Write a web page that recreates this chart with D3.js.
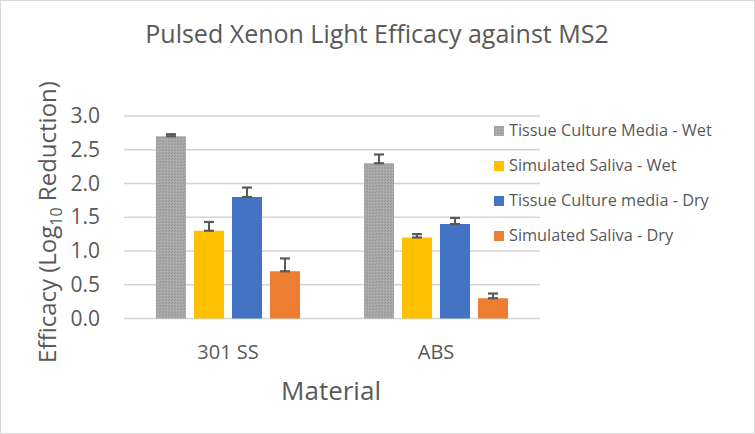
<!DOCTYPE html>
<html>
<head>
<meta charset="utf-8">
<script src="https://cdn.jsdelivr.net/npm/d3@7"></script>
<style>
  body { margin: 0; background: #fff; }
  svg text { font-family: "Open Sans", sans-serif; fill: #595959; }
</style>
</head>
<body>
<div id="chart"></div>
<script>
// data
const materials = ["301 SS", "ABS"];
const seriesNames = [
    "Tissue Culture Media - Wet",
    "Simulated Saliva - Wet",
    "Tissue Culture media - Dry",
    "Simulated Saliva - Dry"
];
const tcmWet = [2.7, 2.3];
const salivaWet = [1.3, 1.2];
const tcmDry = [1.8, 1.4];
const salivaDry = [0.7, 0.3];
const tcmWetErr = [0.03, 0.13];
const salivaWetErr = [0.13, 0.05];
const tcmDryErr = [0.14, 0.09];
const salivaDryErr = [0.19, 0.07];
const yTicks = [0, 0.5, 1, 1.5, 2, 2.5, 3];

const seriesValues = [tcmWet, salivaWet, tcmDry, salivaDry];
const seriesErrors = [tcmWetErr, salivaWetErr, tcmDryErr, salivaDryErr];
const colors = ["url(#stipple)", "#FFC000", "#4472C4", "#ED7D31"];

const width = 755, height = 434;
const plot = { left: 124, right: 540, top: 116, bottom: 318.5 };

const svg = d3.select("#chart").append("svg")
    .attr("width", width)
    .attr("height", height);

// stippled grey fill like the excel bar
const defs = svg.append("defs");
const pat = defs.append("pattern")
    .attr("id", "stipple")
    .attr("width", 3)
    .attr("height", 3)
    .attr("patternUnits", "userSpaceOnUse");
pat.append("rect").attr("width", 3).attr("height", 3).attr("fill", "#a8a8a8");
pat.append("rect").attr("x", 0).attr("y", 0).attr("width", 1).attr("height", 1).attr("fill", "#959595");
pat.append("rect").attr("x", 2).attr("y", 1).attr("width", 1).attr("height", 1).attr("fill", "#b4b4b4");
pat.append("rect").attr("x", 1).attr("y", 2).attr("width", 1).attr("height", 1).attr("fill", "#9a9a9a");

// chart border
svg.append("rect")
    .attr("x", 0.5).attr("y", 0.5)
    .attr("width", width - 1).attr("height", height - 1)
    .attr("fill", "#fff")
    .attr("stroke", "#d9d9d9");

const y = d3.scaleLinear().domain([0, 3]).range([plot.bottom, plot.top]);

const x0 = d3.scaleBand()
    .domain(materials)
    .range([plot.left, plot.right])
    .paddingInner(0.3077)
    .paddingOuter(0.1538);

const x1 = d3.scaleBand()
    .domain(d3.range(seriesNames.length))
    .range([0, x0.bandwidth()])
    .paddingInner(8 / 38);

// gridlines
svg.append("g")
    .selectAll("line")
    .data(yTicks)
    .enter().append("line")
    .attr("x1", plot.left)
    .attr("x2", plot.right)
    .attr("y1", d => y(d))
    .attr("y2", d => y(d))
    .attr("stroke", "#d4d4d4")
    .attr("stroke-width", 1.5);

// y axis labels
const yAxis = svg.append("g")
    .attr("transform", `translate(${plot.left},0)`)
    .call(d3.axisLeft(y).tickValues(yTicks).tickSize(0).tickPadding(24).tickFormat(d3.format(".1f")));
yAxis.select(".domain").remove();
yAxis.selectAll("text")
    .style("font-size", "21px")
    .style("fill", "#595959");

// x axis labels
const xAxis = svg.append("g")
    .attr("transform", `translate(0,${plot.bottom})`)
    .call(d3.axisBottom(x0).tickSize(0).tickPadding(26));
xAxis.select(".domain").remove();
xAxis.selectAll("text")
    .style("font-size", "20px")
    .style("fill", "#595959");

// bars
seriesValues.forEach((vals, s) => {
    const g = svg.append("g");
    g.selectAll("rect")
        .data(vals)
        .enter().append("rect")
        .attr("x", (d, i) => x0(materials[i]) + x1(s))
        .attr("y", d => y(d))
        .attr("width", x1.bandwidth())
        .attr("height", d => y(0) - y(d))
        .attr("fill", colors[s]);

    // error bars (plus side only)
    const errs = seriesErrors[s];
    vals.forEach((d, i) => {
        const cx = x0(materials[i]) + x1(s) + x1.bandwidth() / 2;
        const top = y(d + errs[i]);
        const bot = y(d);
        const eg = svg.append("g")
            .attr("stroke", "#595959");
        eg.append("line")
            .attr("x1", cx).attr("x2", cx)
            .attr("y1", top).attr("y2", bot)
            .attr("stroke-width", 2);
        [top, bot].forEach(yy => {
            eg.append("line")
                .attr("x1", cx - 5).attr("x2", cx + 5)
                .attr("y1", yy).attr("y2", yy)
                .attr("stroke-width", 2.2);
        });
    });
});

// title
svg.append("text")
    .attr("x", 377)
    .attr("y", 43)
    .attr("text-anchor", "middle")
    .style("font-size", "25px")
    .text("Pulsed Xenon Light Efficacy against MS2");

// x axis title
svg.append("text")
    .attr("x", 331)
    .attr("y", 400)
    .attr("text-anchor", "middle")
    .style("font-size", "26px")
    .text("Material");

// y axis title with subscript
const yTitle = svg.append("text")
    .attr("transform", "translate(56,222) rotate(-90)")
    .attr("text-anchor", "middle")
    .style("font-size", "24px");
yTitle.append("tspan").text("Efficacy (Log");
yTitle.append("tspan").attr("dy", 6).style("font-size", "16px").text("10");
yTitle.append("tspan").attr("dy", -6).text(" Reduction)");

// legend
const legend = svg.append("g")
    .selectAll("g")
    .data(seriesNames)
    .enter().append("g")
    .attr("transform", (d, i) => `translate(494,${136 + i * 35})`);
legend.append("rect")
    .attr("x", 0)
    .attr("y", -10)
    .attr("width", 10)
    .attr("height", 10)
    .attr("fill", (d, i) => colors[i]);
legend.append("text")
    .attr("x", 15)
    .attr("y", 0)
    .style("font-size", "16.3px")
    .text(d => d);
</script>
</body>
</html>
